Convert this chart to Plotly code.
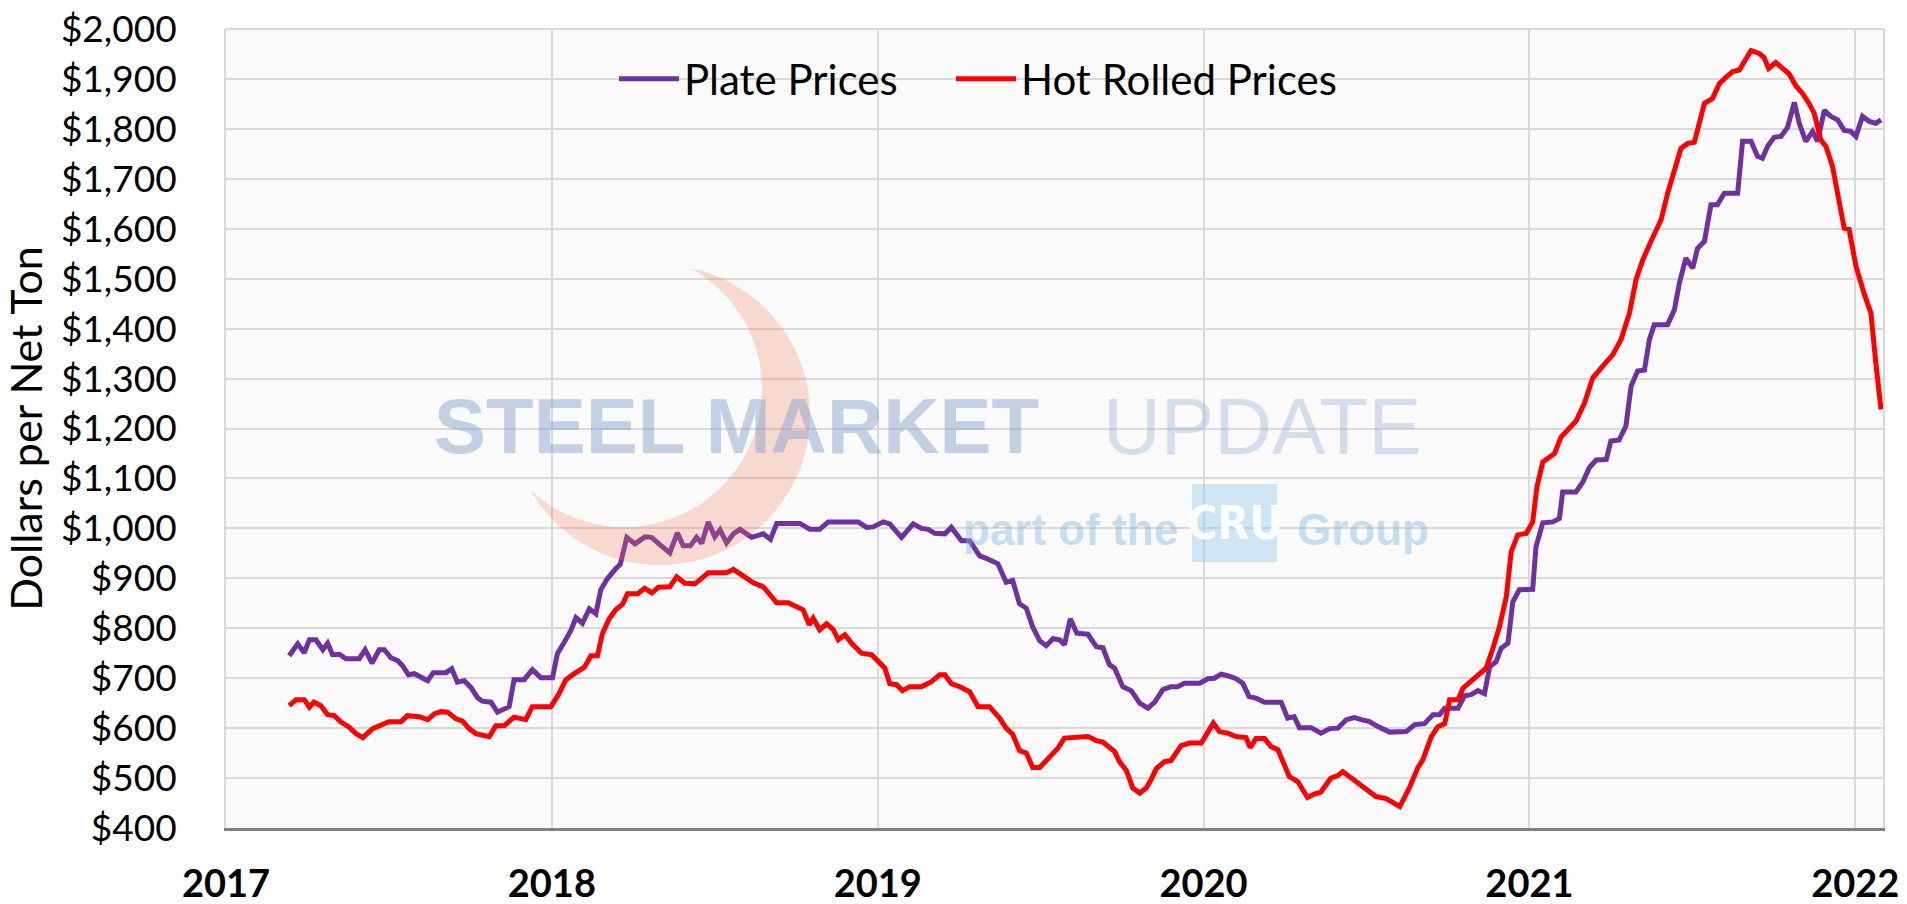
import numpy as np
import plotly.graph_objects as go

# ---------------- data ----------------
plate_t = [2017.194, 2017.22, 2017.24, 2017.256, 2017.276, 2017.297, 2017.312, 2017.327, 2017.348, 2017.368,
           2017.409, 2017.427, 2017.448, 2017.47, 2017.486, 2017.506, 2017.527, 2017.542, 2017.56, 2017.578,
           2017.619, 2017.636, 2017.675, 2017.693, 2017.71, 2017.731, 2017.752, 2017.772, 2017.787, 2017.813,
           2017.833, 2017.854, 2017.869, 2017.884, 2017.915, 2017.94, 2017.966, 2018.002, 2018.017, 2018.038,
           2018.058, 2018.074, 2018.094, 2018.115, 2018.135, 2018.15, 2018.17, 2018.196, 2018.21, 2018.23,
           2018.255, 2018.286, 2018.306, 2018.332, 2018.362, 2018.385, 2018.403, 2018.425, 2018.444, 2018.46,
           2018.48, 2018.5, 2018.516, 2018.536, 2018.557, 2018.577, 2018.613, 2018.649, 2018.671, 2018.69,
           2018.761, 2018.792, 2018.822, 2018.848, 2018.94, 2018.966, 2018.986, 2019.017, 2019.037, 2019.073,
           2019.109, 2019.134, 2019.155, 2019.175, 2019.206, 2019.226, 2019.257, 2019.282, 2019.313, 2019.333,
           2019.369, 2019.394, 2019.414, 2019.435, 2019.456, 2019.476, 2019.497, 2019.517, 2019.538, 2019.558,
           2019.573, 2019.591, 2019.611, 2019.645, 2019.671, 2019.691, 2019.711, 2019.727, 2019.752, 2019.778,
           2019.804, 2019.829, 2019.85, 2019.875, 2019.9, 2019.92, 2019.941, 2019.988, 2020.013, 2020.033,
           2020.054, 2020.074, 2020.1, 2020.12, 2020.14, 2020.161, 2020.187, 2020.238, 2020.258, 2020.278,
           2020.294, 2020.33, 2020.36, 2020.387, 2020.412, 2020.438, 2020.463, 2020.484, 2020.509, 2020.535,
           2020.571, 2020.622, 2020.648, 2020.678, 2020.704, 2020.724, 2020.74, 2020.781, 2020.801, 2020.821,
           2020.842, 2020.862, 2020.878, 2020.898, 2020.913, 2020.934, 2020.949, 2020.969, 2021.01, 2021.02,
           2021.041, 2021.072, 2021.092, 2021.102, 2021.143, 2021.164, 2021.184, 2021.205, 2021.236, 2021.25,
           2021.275, 2021.296, 2021.312, 2021.332, 2021.353, 2021.368, 2021.383, 2021.424, 2021.445, 2021.46,
           2021.48, 2021.501, 2021.516, 2021.537, 2021.557, 2021.577, 2021.598, 2021.639, 2021.654, 2021.68,
           2021.7, 2021.715, 2021.731, 2021.751, 2021.772, 2021.792, 2021.813, 2021.828, 2021.848, 2021.869,
           2021.884, 2021.905, 2021.925, 2021.946, 2021.966, 2021.986, 2022.002, 2022.022, 2022.043, 2022.063,
           2022.079]
plate_v = [745, 769, 751, 777, 777, 757, 770, 747, 748, 739,
           739, 757, 730, 757, 757, 741, 735, 725, 707, 709,
           695, 711, 711, 719, 692, 695, 681, 661, 654, 652,
           632, 639, 643, 697, 697, 717, 701, 701, 749, 772,
           795, 821, 810, 839, 829, 877, 899, 919, 928, 982,
           969, 983, 982, 967, 951, 991, 965, 965, 982, 970,
           1013, 983, 997, 971, 989, 998, 982, 989, 978, 1010,
           1010, 998, 998, 1013, 1013, 1002, 1003, 1013, 1009, 982,
           1009, 1000, 998, 990, 989, 1002, 975, 975, 945, 940,
           929, 892, 896, 849, 840, 802, 775, 765, 779, 777,
           767, 819, 790, 788, 763, 761, 727, 720, 683, 675,
           650, 640, 652, 677, 683, 683, 690, 690, 699, 700,
           708, 705, 699, 690, 663, 660, 652, 652, 620, 623,
           601, 601, 590, 599, 600, 617, 621, 617, 613, 603,
           592, 593, 607, 609, 627, 627, 640, 640, 665, 667,
           675, 669, 723, 733, 760, 770, 853, 877, 878, 963,
           1011, 1013, 1020, 1073, 1073, 1093, 1122, 1137, 1138, 1175,
           1177, 1205, 1285, 1315, 1317, 1378, 1408, 1408, 1438, 1491,
           1541, 1521, 1561, 1575, 1648, 1648, 1671, 1671, 1775, 1775,
           1745, 1741, 1765, 1783, 1785, 1803, 1853, 1811, 1775, 1795,
           1775, 1837, 1825, 1818, 1797, 1795, 1785, 1825, 1815, 1811,
           1818]

hr_t = [2017.194, 2017.215, 2017.24, 2017.256, 2017.27, 2017.291, 2017.312, 2017.332, 2017.353, 2017.378,
        2017.399, 2017.42, 2017.45, 2017.475, 2017.5, 2017.537, 2017.557, 2017.593, 2017.619, 2017.64,
        2017.66, 2017.68, 2017.705, 2017.726, 2017.746, 2017.767, 2017.808, 2017.828, 2017.854, 2017.884,
        2017.92, 2017.94, 2017.997, 2018.022, 2018.043, 2018.069, 2018.1, 2018.12, 2018.14, 2018.155,
        2018.176, 2018.196, 2018.217, 2018.232, 2018.263, 2018.285, 2018.307, 2018.327, 2018.362, 2018.383,
        2018.408, 2018.439, 2018.48, 2018.536, 2018.557, 2018.587, 2018.618, 2018.649, 2018.69, 2018.725,
        2018.751, 2018.771, 2018.79, 2018.802, 2018.822, 2018.843, 2018.863, 2018.879, 2018.899, 2018.92,
        2018.95, 2018.981, 2019.022, 2019.037, 2019.058, 2019.076, 2019.098, 2019.134, 2019.165, 2019.19,
        2019.206, 2019.226, 2019.252, 2019.282, 2019.308, 2019.343, 2019.374, 2019.394, 2019.414, 2019.435,
        2019.456, 2019.476, 2019.497, 2019.522, 2019.553, 2019.573, 2019.599, 2019.62, 2019.645, 2019.671,
        2019.691, 2019.727, 2019.742, 2019.763, 2019.783, 2019.804, 2019.824, 2019.839, 2019.855, 2019.88,
        2019.9, 2019.931, 2019.957, 2019.993, 2020.013, 2020.03, 2020.049, 2020.074, 2020.1, 2020.13,
        2020.143, 2020.161, 2020.187, 2020.207, 2020.228, 2020.263, 2020.289, 2020.319, 2020.34, 2020.36,
        2020.391, 2020.412, 2020.427, 2020.458, 2020.488, 2020.529, 2020.56, 2020.581, 2020.602, 2020.632,
        2020.657, 2020.673, 2020.699, 2020.719, 2020.74, 2020.755, 2020.781, 2020.796, 2020.821, 2020.847,
        2020.867, 2020.888, 2020.908, 2020.929, 2020.944, 2020.964, 2020.99, 2021.01, 2021.023, 2021.041,
        2021.077, 2021.097, 2021.121, 2021.143, 2021.169, 2021.194, 2021.225, 2021.256, 2021.281, 2021.307,
        2021.327, 2021.348, 2021.373, 2021.404, 2021.424, 2021.445, 2021.465, 2021.486, 2021.506, 2021.521,
        2021.537, 2021.562, 2021.583, 2021.603, 2021.624, 2021.644, 2021.659, 2021.68, 2021.705, 2021.72,
        2021.734, 2021.756, 2021.777, 2021.797, 2021.818, 2021.838, 2021.858, 2021.874, 2021.894, 2021.91,
        2021.93, 2021.945, 2021.966, 2021.981, 2022.002, 2022.028, 2022.048, 2022.063, 2022.079]
hr_v = [645, 657, 657, 642, 652, 645, 627, 625, 612, 602,
        589, 581, 599, 605, 613, 613, 625, 623, 617, 629,
        633, 632, 619, 614, 599, 589, 583, 605, 605, 622,
        617, 643, 643, 669, 697, 709, 722, 745, 745, 789,
        819, 837, 848, 869, 869, 880, 871, 882, 883, 903,
        890, 889, 911, 911, 918, 905, 891, 883, 851, 851,
        842, 837, 807, 820, 797, 809, 798, 777, 787, 770,
        750, 747, 720, 689, 687, 675, 683, 683, 693, 707,
        707, 689, 683, 673, 643, 643, 620, 600, 588, 555,
        550, 521, 521, 539, 560, 580, 581, 583, 583, 575,
        572, 553, 533, 515, 480, 470, 480, 497, 519, 533,
        535, 565, 570, 570, 590, 610, 593, 590, 583, 581,
        561, 579, 579, 563, 557, 503, 493, 461, 468, 472,
        500, 505, 513, 497, 483, 463, 459, 450, 443, 481,
        520, 537, 583, 603, 609, 657, 657, 680, 693, 707,
        720, 760, 803, 863, 953, 987, 990, 1013, 1083, 1133,
        1150, 1183, 1201, 1215, 1251, 1301, 1325, 1348, 1378, 1431,
        1498, 1538, 1575, 1618, 1671, 1718, 1761, 1771, 1773, 1811,
        1851, 1861, 1891, 1903, 1915, 1918, 1935, 1957, 1951, 1943,
        1921, 1933, 1921, 1910, 1886, 1871, 1851, 1831, 1778, 1765,
        1725, 1671, 1601, 1599, 1525, 1468, 1431, 1331, 1238]

series_names = ["Plate Prices", "Hot Rolled Prices"]
year_ticks = [2017, 2018, 2019, 2020, 2021, 2022]
year_labels = ["2017", "2018", "2019", "2020", "2021", "2022"]
price_min, price_max, price_step = 400, 2000, 100

# ---------------- layout geometry ----------------
W, H = 1907, 904
ML, MR, MT, MB = 226, 24, 29, 76
PW, PH = W - ML - MR, H - MT - MB


def to_paper(px, py):
    return (px - ML) / PW, (H - MB - py) / PH


FONT = "Lato, 'Noto Sans', sans-serif"

fig = go.Figure()
fig.add_trace(go.Scatter(x=plate_t, y=plate_v, name=series_names[0], mode="lines",
                         line=dict(color="#7030A0", width=5), legend="legend"))
fig.add_trace(go.Scatter(x=hr_t, y=hr_v, name=series_names[1], mode="lines",
                         line=dict(color="#FF0000", width=5), legend="legend2"))

# ---------------- watermark (decorative logo) ----------------
O, Rr = np.array([660.0, 415.0]), 150.0
C, rr = np.array([624.0, 389.0]), 138.0
d = np.linalg.norm(C - O)
u = (C - O) / d
a = (d * d + Rr * Rr - rr * rr) / (2 * d)
h = np.sqrt(Rr * Rr - a * a)
P = O + a * u
perp = np.array([-u[1], u[0]])
tips = [P + h * perp, P - h * perp]
angO = [np.arctan2(tp[1] - O[1], tp[0] - O[0]) for tp in tips]
a0, a1 = sorted(angO)
if a1 - a0 < np.pi:
    a0, a1 = a1, a0 + 2 * np.pi
outer = [O + Rr * np.array([np.cos(t), np.sin(t)]) for t in np.linspace(a0, a1, 90)]
b_start = np.arctan2(outer[-1][1] - C[1], outer[-1][0] - C[0])
b_end = np.arctan2(outer[0][1] - C[1], outer[0][0] - C[0])
while b_end > b_start:
    b_end -= 2 * np.pi
inner = [C + rr * np.array([np.cos(t), np.sin(t)]) for t in np.linspace(b_start, b_end, 90)]
pts = [to_paper(p[0], p[1]) for p in outer + inner]
path = "M " + " L ".join(f"{x:.5f},{y:.5f}" for x, y in pts) + " Z"

shapes = [
    dict(type="path", path=path, xref="paper", yref="paper", layer="above",
         fillcolor="rgba(238,120,85,0.25)", line=dict(width=0)),
    dict(type="line", xref="paper", yref="paper", x0=0, x1=1, y0=1, y1=1,
         line=dict(color="#d9d9d9", width=2), layer="below"),
]
bx0, by0 = to_paper(1192, 562)
bx1, by1 = to_paper(1277, 484)
shapes.append(dict(type="rect", xref="paper", yref="paper", x0=bx0, y0=by0, x1=bx1, y1=by1,
                   fillcolor="rgba(140,200,232,0.40)", line=dict(width=0), layer="above"))

annotations = []
x, y = to_paper(432, 426)
annotations.append(dict(text="<b>STEEL MARKET</b>", x=x, y=y, xref="paper", yref="paper",
                        xanchor="left", yanchor="middle", showarrow=False,
                        font=dict(family="Liberation Sans, Arial, sans-serif", size=78,
                                  color="rgba(140,165,205,0.50)")))
x, y = to_paper(1101, 426)
annotations.append(dict(text="UPDATE", x=x, y=y, xref="paper", yref="paper",
                        xanchor="left", yanchor="middle", showarrow=False,
                        font=dict(family="Liberation Sans, Arial, sans-serif", size=80,
                                  color="rgba(160,180,215,0.42)")))
x, y = to_paper(961, 529)
annotations.append(dict(text="<b>part of the</b>", x=x, y=y, xref="paper", yref="paper",
                        xanchor="left", yanchor="middle", showarrow=False,
                        font=dict(family="Liberation Sans, Arial, sans-serif", size=44,
                                  color="rgba(130,185,225,0.45)")))
x, y = to_paper(1234.5, 523)
annotations.append(dict(text="<b>CRU</b>", x=x, y=y, xref="paper", yref="paper",
                        xanchor="center", yanchor="middle", showarrow=False,
                        font=dict(family="'Liberation Sans Narrow', 'DejaVu Sans Condensed', sans-serif",
                                  size=46, color="rgba(255,255,255,0.92)")))
x, y = to_paper(1295, 529)
annotations.append(dict(text="<b>Group</b>", x=x, y=y, xref="paper", yref="paper",
                        xanchor="left", yanchor="middle", showarrow=False,
                        font=dict(family="Liberation Sans, Arial, sans-serif", size=44,
                                  color="rgba(130,185,225,0.45)")))

lx1, ly = to_paper(614, 79)
lx2, _ = to_paper(951, 79)
legend_style = dict(orientation="h", y=ly, xanchor="left", yanchor="middle",
                    bgcolor="rgba(0,0,0,0)", font=dict(size=42, family=FONT, color="black"),
                    itemwidth=60)

fig.update_layout(
    width=W, height=H,
    margin=dict(l=ML, r=MR, t=MT, b=MB, pad=0, autoexpand=False),
    paper_bgcolor="white",
    plot_bgcolor="#fafafa",
    font=dict(family=FONT, color="black"),
    showlegend=True,
    legend=dict(x=lx1, **legend_style),
    legend2=dict(x=lx2, **legend_style),
    shapes=shapes,
    annotations=annotations,
    xaxis=dict(range=[2017, 2022.085], tickmode="array", tickvals=year_ticks, ticktext=year_labels,
               showgrid=True, gridcolor="#d9d9d9", gridwidth=1.5,
               showline=True, linecolor="#7f7f7f", linewidth=3, ticks="",
               tickfont=dict(size=38, family=FONT, color="black", weight="bold"),
               ticklabelstandoff=20, zeroline=False, fixedrange=True, automargin=False),
    yaxis=dict(range=[price_min, price_max], dtick=price_step, tick0=price_min,
               tickprefix="$", tickformat=",d",
               showgrid=True, gridcolor="#d9d9d9", gridwidth=1.5,
               showline=True, mirror=True, linecolor="#d9d9d9", linewidth=2, ticks="",
               tickfont=dict(size=37, family=FONT, color="black"),
               ticklabelstandoff=40, zeroline=False, fixedrange=True, automargin=False,
               title=dict(text="Dollars per Net Ton", standoff=8,
                          font=dict(size=43, family=FONT, color="black"))),
)

fig.write_html("out.html", config={"displayModeBar": False},
               post_script="document.body.style.margin='0';document.body.style.overflow='hidden';")
